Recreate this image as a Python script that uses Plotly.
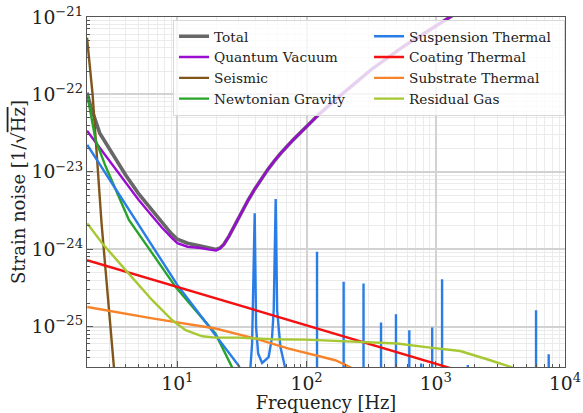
import plotly.graph_objects as go

# ---------------- data ----------------
freq_quantum = [2.0, 2.51, 3.16, 3.98, 5.01, 6.31, 7.59, 8.91, 10.0, 12.0, 15.1, 17.8,
                19.95, 21.38, 22.91, 25.12, 28.18, 31.62, 35.48, 39.81, 44.67, 50.12,
                56.23, 63.10, 79.43, 100, 125.9, 177.8, 316.2, 562.3, 1000, 1413]
quantum = [3.39e-23, 2.04e-23, 1.23e-23, 7.41e-24, 4.37e-24, 2.75e-24, 1.91e-24, 1.45e-24,
           1.20e-24, 1.08e-24, 1.04e-24, 9.89e-25,
           9.66e-25, 1.02e-24, 1.15e-24, 1.48e-24, 2.14e-24, 3.09e-24, 4.37e-24, 6.03e-24,
           8.13e-24, 1.07e-23, 1.38e-23, 1.74e-23, 2.63e-23, 3.89e-23, 5.62e-23, 9.33e-23,
           2.09e-22, 4.17e-22, 7.76e-22, 1.10e-21]

freq_total = [2.0, 2.14, 2.51, 3.16, 3.98, 5.01, 6.31, 7.59, 8.91, 10.0, 12.0, 15.1, 17.8,
              19.95, 21.38, 22.91, 25.12, 28.18, 31.62, 35.48, 39.81, 44.67, 50.12,
              56.23, 63.10, 79.43, 100, 125.9, 177.8, 316.2, 562.3, 1000, 1413]
total = [1.05e-22, 6.92e-23, 3.16e-23, 1.70e-23, 9.12e-24, 5.25e-24, 3.24e-24, 2.19e-24,
         1.62e-24, 1.35e-24, 1.20e-24, 1.10e-24, 1.03e-24,
         9.95e-25, 1.04e-24, 1.16e-24, 1.48e-24, 2.14e-24, 3.09e-24, 4.37e-24, 6.03e-24,
         8.13e-24, 1.07e-23, 1.38e-23, 1.74e-23, 2.63e-23, 3.89e-23, 5.62e-23, 9.33e-23,
         2.09e-22, 4.17e-22, 7.76e-22, 1.10e-21]

freq_seismic = [2.0, 2.21, 2.59, 3.23, 3.3]
seismic = [5.4e-22, 1.0e-22, 2.2e-24, 3.0e-26, 2.0e-26]

freq_newtonian = [2.01, 2.33, 2.79, 3.33, 4.22, 6.40, 9.68, 13.8, 19.7, 26.5, 28.0]
newtonian = [9.9e-23, 2.59e-23, 1.17e-23, 5.83e-24, 2.39e-24, 8.85e-25, 3.27e-25,
             1.64e-25, 8.17e-26, 3.0e-26, 2.2e-26]

# suspension thermal: smooth part plus the two broad low-frequency resonances
freq_susp = [2.01, 3.16, 5.01, 10.0, 15.85, 29.9, 33.0,
             36.8, 37.9, 39.7, 40.7, 42.2, 45.3, 50.9, 54.1, 55.7, 57.7, 59.2, 62.8, 68.5, 72.0]
susp = [2.23e-23, 6.92e-24, 2.09e-24, 3.47e-25, 1.26e-25, 3.13e-26, 2.0e-26,
        3.0e-26, 6.07e-26, 2.91e-24, 9.93e-26, 4.50e-26, 3.40e-26, 4.06e-26, 7.38e-26,
        1.63e-25, 4.46e-24, 1.63e-25, 5.48e-26, 3.0e-26, 2.0e-26]
# narrow violin-mode spikes (frequency, peak height); their base lies far below the axis
spike_freq = [120.5, 193.6, 276, 377, 492, 624, 771, 938, 1119, 1770, 5970, 7480]
spike_peak = [9.3e-25, 3.8e-25, 3.63e-25, 1.13e-25, 1.45e-25, 9.0e-26, 3.34e-26, 9.8e-26,
              4.1e-25, 3.2e-26, 1.63e-25, 4.4e-26]
spike_base = 1e-27

freq_coating = [2.0, 100, 1219, 1500]
coating = [7.24e-25, 1.04e-25, 3.0e-26, 2.72e-26]

freq_substrate = [2.01, 6.40, 19.7, 40.2, 72.8, 167, 218, 240]
substrate = [1.80e-25, 1.28e-25, 9.48e-26, 7.03e-26, 5.22e-26, 3.69e-26, 3.0e-26, 2.6e-26]

freq_gas = [2.01, 2.63, 3.98, 6.40, 9.14, 11.6, 15.6, 19.7, 29.9, 54.1, 97.9, 276, 500,
            906, 1545, 2636, 3873, 4200]
gas = [2.16e-24, 1.19e-24, 5.38e-25, 2.20e-25, 1.21e-25, 9.02e-26, 7.53e-26, 7.24e-26,
       7.24e-26, 6.89e-26, 6.82e-26, 6.35e-26, 6.07e-26, 5.38e-26, 4.86e-26, 3.69e-26,
       3.0e-26, 2.5e-26]

x_tick_alias = {"10": "10<sup>1</sup>"}

# build suspension trace
sx = list(freq_susp)
sy = list(susp)
for f0, h0 in zip(spike_freq, spike_peak):
    sx += [f0, f0, f0]
    sy += [spike_base, h0, spike_base]

FONT = "DejaVu Serif"

series = [
    ("Total", freq_total, total, "#676767", 3.6, 1),
    ("Quantum Vacuum", freq_quantum, quantum, "#9a0ccf", 2.4, 3),
    ("Seismic", freq_seismic, seismic, "#80561a", 2.4, 5),
    ("Newtonian Gravity", freq_newtonian, newtonian, "#27a32a", 2.4, 7),
    ("Suspension Thermal", sx, sy, "#2a7de6", 2.4, 2),
    ("Coating Thermal", freq_coating, coating, "#f21010", 2.4, 4),
    ("Substrate Thermal", freq_substrate, substrate, "#f7842a", 2.4, 6),
    ("Residual Gas", freq_gas, gas, "#a6c832", 2.4, 8),
]

fig = go.Figure()
for name, fx, fy, col, w, rank in series:
    fig.add_trace(go.Scatter(x=fx, y=fy, mode="lines", name=name,
                             line=dict(color=col, width=w), legendrank=rank))

axis_common = dict(
    type="log", showline=True, linecolor="#555555", linewidth=1, mirror=True,
    ticks="inside", ticklen=6, tickcolor="#555555", dtick=1, automargin=False,
    exponentformat="power", showgrid=True, gridcolor="#d2d2d2", gridwidth=1.6,
    zeroline=False,
    tickfont=dict(family=FONT, size=15, color="#222222"),
    minor=dict(ticks="inside", ticklen=3, tickcolor="#555555", showgrid=True,
               gridcolor="#ebebeb", gridwidth=1, dtick="D1"),
)

fig.update_layout(
    width=583, height=413,
    margin=dict(l=87, r=18, t=17, b=46),
    paper_bgcolor="white", plot_bgcolor="white",
    font=dict(family=FONT, color="#222222"),
    xaxis=dict(axis_common, range=[0.30103, 4], labelalias=x_tick_alias,
               title=dict(text="Frequency [Hz]", font=dict(family=FONT, size=17.8), standoff=3)),
    yaxis=dict(axis_common, range=[-25.52, -21],
               title=dict(text="Strain noise [1/√<span style='text-decoration:overline'>Hz</span>]",
                          font=dict(family=FONT, size=18), standoff=1)),
    legend=dict(orientation="h", x=0.18, y=0.992, xanchor="left", yanchor="top",
                bgcolor="rgba(255,255,255,0.8)", bordercolor="#d8d8d8", borderwidth=1,
                font=dict(family=FONT, size=13.7, color="#222222"),
                entrywidth=150, traceorder="normal"),
    showlegend=True,
)

fig.write_html("out.html", config={"displayModeBar": False},
               post_script="document.body.style.margin='0';")
